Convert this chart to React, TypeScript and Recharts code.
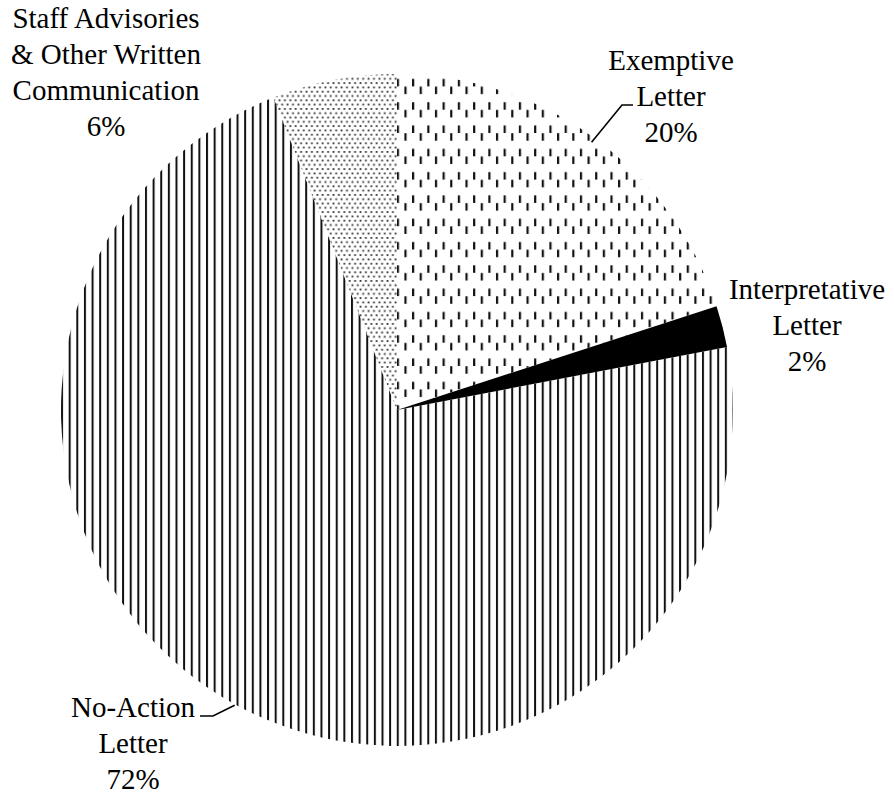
import React from 'react';
import { PieChart, Pie, Cell } from 'recharts';

const categories = ['Exemptive Letter', 'Interpretative Letter', 'No-Action Letter', 'Staff Advisories & Other Written Communication'];
const shares = [20, 2, 72, 6];
const labelLines = [
  ['Exemptive', 'Letter'],
  ['Interpretative', 'Letter'],
  ['No-Action', 'Letter'],
  ['Staff Advisories', '& Other Written', 'Communication'],
];

const data = categories.map((name, i) => ({ name, value: shares[i] }));

const fills = ['url(#pat-dashes)', '#000000', 'url(#pat-stripes)', 'url(#pat-dots)'];

// label layout (offsets from pie centre)
const labelLayout = [
  { dx: 274, firstBaseline: -340, leader: { r: 331, elbow: [225, -305], end: [236, -305] } },
  { dx: 410, firstBaseline: -111, leader: null },
  { dx: -264, firstBaseline: 307, leader: { r: 337, elbow: [-184, 306], end: [-197, 306] } },
  { dx: -291, firstBaseline: -382, leader: null },
];
const LINE_H = 36;
const RAD = Math.PI / 180;

const renderLabel = (props: any) => {
  const { cx, cy, midAngle, index, value } = props;
  const lay = labelLayout[index];
  const lines = [...labelLines[index], `${value}%`];
  const x = cx + lay.dx;
  let leader = null;
  if (lay.leader) {
    const sx = cx + lay.leader.r * Math.cos(-midAngle * RAD);
    const sy = cy + lay.leader.r * Math.sin(-midAngle * RAD);
    const ex = cx + lay.leader.elbow[0];
    const ey = cy + lay.leader.elbow[1];
    const fx = cx + lay.leader.end[0];
    const fy = cy + lay.leader.end[1];
    leader = (
      <polyline points={`${sx},${sy} ${ex},${ey} ${fx},${fy}`} fill="none" stroke="#000" strokeWidth={1.6} />
    );
  }
  return (
    <g key={`lbl-${index}`}>
      {leader}
      {lines.map((t, j) => (
        <text
          key={j}
          x={x}
          y={cy + lay.firstBaseline + j * LINE_H}
          textAnchor="middle"
          fontFamily="'Liberation Serif', serif"
          fontSize={29}
          fill="#000"
        >
          {t}
        </text>
      ))}
    </g>
  );
};

export default function App() {
  return (
    <div style={{ position: 'absolute', left: 0, top: 0, width: 894, height: 797, background: '#fff' }}>
      <svg width={0} height={0} style={{ position: 'absolute' }}>
        <defs>
          <pattern id="pat-stripes" patternUnits="userSpaceOnUse" width={7.63} height={10}>
            <rect x={0} y={0} width={2} height={10} fill="#111" />
          </pattern>
          <pattern id="pat-dashes" patternUnits="userSpaceOnUse" width={15.26} height={23.3}>
            <rect x={0} y={9} width={2.2} height={7.5} fill="#111" />
            <rect x={7.63} y={16.7} width={2.2} height={6.6} fill="#111" />
            <rect x={7.63} y={0} width={2.2} height={0.9} fill="#111" />
          </pattern>
          <pattern id="pat-dots" patternUnits="userSpaceOnUse" width={5.4} height={8.6}>
            <rect x={0.5} y={0.5} width={1.8} height={1.8} fill="#333" />
            <rect x={3.2} y={4.8} width={1.8} height={1.8} fill="#333" />
          </pattern>
        </defs>
      </svg>
      <PieChart width={894} height={797} margin={{ top: 0, right: 0, bottom: 0, left: 0 }}>
        <Pie
          data={data}
          dataKey="value"
          nameKey="name"
          cx={397}
          cy={410}
          outerRadius={336}
          innerRadius={0}
          startAngle={90}
          endAngle={-270}
          stroke="none"
          label={renderLabel}
          labelLine={false}
          isAnimationActive={false}
        >
          {data.map((d, i) => (
            <Cell key={d.name} fill={fills[i]} stroke="none" />
          ))}
        </Pie>
      </PieChart>
    </div>
  );
}
